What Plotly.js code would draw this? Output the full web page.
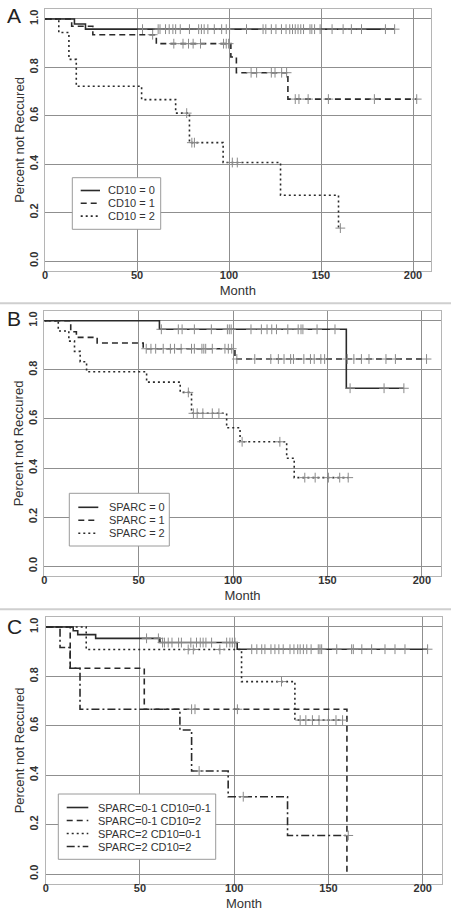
<!DOCTYPE html>
<html>
<head>
<meta charset="utf-8">
<script src="https://cdn.plot.ly/plotly-3.0.1.min.js"></script>
<style>html,body{margin:0;padding:0;background:#fff;}#chart{width:451px;height:915px;}</style>
</head>
<body>
<div id="chart"></div>
<script>
// ---------- Data ----------
// Panel A: CD10
const cd10Labels = ["CD10 = 0", "CD10 = 1", "CD10 = 2"];
const cd10_0_times = [16, 22];
const cd10_0_surv = [0.979, 0.958];
const cd10_0_censor = [53, 61.5, 62.5, 65.5, 67.5, 69.5, 71, 73.5, 78.5, 83.5, 85, 86.5, 88.5, 92, 96, 98.5, 100.3, 109.5, 118.5, 120, 123, 125.5, 128.5, 131, 133, 134.5, 136, 137.5, 139, 140.5, 144, 145, 146.5, 149.5, 156, 162, 166.5, 172, 185, 190];
const cd10_1_times = [14.5, 26, 60.5, 101, 104, 132];
const cd10_1_surv = [0.97, 0.935, 0.898, 0.843, 0.778, 0.669];
const cd10_1_censor = [58.5, 70, 75, 78, 80.5, 84.5, 97, 98.5, 99.8, 112, 115, 123, 125, 128.6, 131.3, 136, 138, 143, 154, 179, 202];
const cd10_2_times = [7.5, 13, 17, 52.5, 71, 78.5, 96.8, 128, 159.5];
const cd10_2_surv = [0.944, 0.833, 0.722, 0.667, 0.611, 0.489, 0.407, 0.272, 0.136];
const cd10_2_censor = [77, 79.8, 81.2, 101.8, 104.5, 160.5];

// Panel B: SPARC
const sparcLabels = ["SPARC = 0", "SPARC = 1", "SPARC = 2"];
const sparc0_times = [61, 160];
const sparc0_surv = [0.965, 0.725];
const sparc0_censor = [62, 71, 73, 79.5, 88.5, 97, 98, 99, 109.5, 115, 118, 120.5, 123, 129, 134.5, 136, 137, 144.5, 154, 162, 180, 190.5];
const sparc1_times = [14, 17, 28, 52.4, 101];
const sparc1_surv = [0.955, 0.932, 0.909, 0.886, 0.844];
const sparc1_censor = [54, 56.5, 59, 63, 66.8, 69, 72.5, 78, 79.5, 83.5, 84.5, 85.5, 89, 95.7, 97.5, 99.3, 102, 111.5, 120, 124, 127, 130.5, 132, 137.5, 141, 143, 146.5, 148.5, 160.5, 164, 168, 172, 181, 186, 202.5];
const sparc2_times = [7.4, 13, 16, 19, 22.4, 54.2, 72, 78, 96.6, 103.7, 128.4, 132.4];
const sparc2_surv = [0.958, 0.917, 0.875, 0.833, 0.792, 0.75, 0.708, 0.623, 0.564, 0.507, 0.44, 0.361];
const sparc2_censor = [76.3, 79, 81, 84, 89, 92.5, 104.8, 124.8, 138, 143.5, 150.5, 156.5, 161];

// Panel C: combined groups
const comboLabels = ["SPARC=0-1 CD10=0-1", "SPARC=0-1 CD10=2", "SPARC=2 CD10=0-1", "SPARC=2 CD10=2"];
const g1_times = [14.6, 17, 26.5, 60.6, 101.6];
const g1_surv = [0.985, 0.969, 0.954, 0.937, 0.91];
const g1_censor = [53.5, 59.8, 62, 63, 65, 67, 70.5, 72, 77, 80, 82, 83.5, 85, 88, 96, 97.7, 99, 100.4, 109.3, 112, 114.6, 116.3, 119.5, 121.6, 123.7, 126, 129.6, 131.7, 133.7, 135, 136.7, 138.5, 140.8, 144.6, 145.5, 146.4, 154.4, 162.3, 163.2, 167.7, 172.9, 180, 185.3, 190.6, 202.6];
const g2_times = [13, 52.3, 159.8];
const g2_surv = [0.833, 0.667, 0];
const g2_censor = [77.4, 79.2, 101.7];
const g3_times = [21.5, 103.9, 132.2];
const g3_surv = [0.909, 0.779, 0.623];
const g3_censor = [75.6, 78.3, 92.4, 125.1, 135, 138, 141.5, 145, 150, 154, 157.5];
const g4_times = [7.6, 13, 18.2, 71.2, 77.4, 96.8, 128.3];
const g4_surv = [0.917, 0.833, 0.667, 0.583, 0.417, 0.313, 0.156];
const g4_censor = [81.4, 104.8, 160.5];

const xTicks = [0, 50, 100, 150, 200];
const yTicks = [0, 0.2, 0.4, 0.6, 0.8, 1.0];

// ---------- Helpers ----------
const FONT = "Liberation Sans, Arial, Helvetica, sans-serif";
const LINE_COLOR = "#2a2a2a";
const dashes = ["solid", "6px,4px", "2px,3px", "8px,3px,2px,3px"];
const W = 451, H = 915;

function survAt(times, surv, t) {
  let s = 1;
  for (let i = 0; i < times.length; i++) { if (times[i] <= t) s = surv[i]; }
  return s;
}

function kmTraces(times, surv, censor, name, dashIdx, ax) {
  const end = Math.max(times[times.length - 1], censor.length ? censor[censor.length - 1] : 0);
  const xs = [0].concat(times);
  const ys = [1].concat(surv);
  if (end > times[times.length - 1]) { xs.push(end); ys.push(surv[surv.length - 1]); }
  const line = {
    x: xs, y: ys, type: "scatter", mode: "lines", name: name, showlegend: false,
    line: {shape: "hv", color: LINE_COLOR, width: 1.6, dash: dashes[dashIdx]},
    xaxis: "x" + ax, yaxis: "y" + ax, hoverinfo: "skip"
  };
  const marks = {
    x: censor, y: censor.map(t => survAt(times, surv, t)), type: "scatter", mode: "markers",
    name: name + " (censored)",
    marker: {symbol: "cross-thin", size: 7, line: {color: "#8a8a8a", width: 1}, color: "#8a8a8a"},
    showlegend: false, xaxis: "x" + ax, yaxis: "y" + ax, hoverinfo: "skip"
  };
  return [line, marks];
}

const data = [].concat(
  kmTraces(cd10_0_times, cd10_0_surv, cd10_0_censor, cd10Labels[0], 0, ""),
  kmTraces(cd10_1_times, cd10_1_surv, cd10_1_censor, cd10Labels[1], 1, ""),
  kmTraces(cd10_2_times, cd10_2_surv, cd10_2_censor, cd10Labels[2], 2, ""),
  kmTraces(sparc0_times, sparc0_surv, sparc0_censor, sparcLabels[0], 0, "2"),
  kmTraces(sparc1_times, sparc1_surv, sparc1_censor, sparcLabels[1], 1, "2"),
  kmTraces(sparc2_times, sparc2_surv, sparc2_censor, sparcLabels[2], 2, "2"),
  kmTraces(g1_times, g1_surv, g1_censor, comboLabels[0], 0, "3"),
  kmTraces(g2_times, g2_surv, g2_censor, comboLabels[1], 1, "3"),
  kmTraces(g3_times, g3_surv, g3_censor, comboLabels[2], 2, "3"),
  kmTraces(g4_times, g4_surv, g4_censor, comboLabels[3], 3, "3")
);

function xDom(l, r) { return [l / W, r / W]; }
function yDom(top, bottom) { return [(H - bottom) / H, (H - top) / H]; }

function xAxis(dom, anchor, xmax) {
  return {
    domain: dom, anchor: anchor, range: [0, xmax], tickvals: xTicks, ticktext: xTicks.map(String),
    showgrid: true, gridcolor: "#8f8f8f", gridwidth: 1, zeroline: false,
    showline: true, mirror: true, linecolor: "#b5b5b5", linewidth: 1,
    ticks: "", ticklabelstandoff: -6,
    tickfont: {family: FONT, size: 11, color: "#333", weight: "bold"},
    title: {text: "Month", font: {family: FONT, size: 13, color: "#333"}, standoff: 5},
    fixedrange: true
  };
}
function yAxis(dom, anchor) {
  return {
    domain: dom, anchor: anchor, range: [-0.04, 1.04], tickvals: yTicks, ticktext: yTicks.map(v => v.toFixed(1)),
    showgrid: true, gridcolor: "#8f8f8f", gridwidth: 1, zeroline: false,
    showline: true, mirror: true, linecolor: "#b5b5b5", linewidth: 1,
    ticks: "", tickangle: -90, ticklabelstandoff: 2,
    tickfont: {family: FONT, size: 11, color: "#333", weight: "bold"},
    title: {text: "Percent not Reccured", font: {family: FONT, size: 13, color: "#333"}, standoff: 0},
    fixedrange: true
  };
}

// Legend boxes (key): box edges, row centres, sample-line x-span, text left, font size (pixels)
const legendSpecs = [
  {labels: cd10Labels, box: [72.3, 160.7, 177.7, 229.3], rows: [190.5, 203.3, 216.1], sample: [80.7, 100], textX: 106.7, size: 11},
  {labels: sparcLabels, box: [69.3, 169.3, 493.3, 546], rows: [507.3, 520.3, 533.3], sample: [78.3, 98.3], textX: 108.3, size: 11},
  {labels: comboLabels, box: [58.3, 215.7, 794, 859.3], rows: [807.5, 820.5, 833.5, 846.5], sample: [66.7, 88.3], textX: 96.7, size: 11}
];

const shapes = [
  {type: "line", xref: "paper", yref: "paper", x0: 0, x1: 1, y0: (H - 303.3) / H, y1: (H - 303.3) / H, line: {color: "#cfcfcf", width: 2}},
  {type: "line", xref: "paper", yref: "paper", x0: 0, x1: 1, y0: (H - 609.3) / H, y1: (H - 609.3) / H, line: {color: "#cfcfcf", width: 2}}
];
const annotations = [
  {text: "A", xref: "paper", yref: "paper", x: 13.5 / W, y: (H - 15.5) / H, xanchor: "center", yanchor: "middle", showarrow: false, font: {family: FONT, size: 21, color: "#222"}},
  {text: "B", xref: "paper", yref: "paper", x: 13.5 / W, y: (H - 318.5) / H, xanchor: "center", yanchor: "middle", showarrow: false, font: {family: FONT, size: 21, color: "#222"}},
  {text: "C", xref: "paper", yref: "paper", x: 14.5 / W, y: (H - 626) / H, xanchor: "center", yanchor: "middle", showarrow: false, font: {family: FONT, size: 21, color: "#222"}}
];
legendSpecs.forEach(spec => {
  shapes.push({type: "rect", xref: "paper", yref: "paper", x0: spec.box[0] / W, x1: spec.box[1] / W,
    y0: (H - spec.box[3]) / H, y1: (H - spec.box[2]) / H, line: {color: "#9a9a9a", width: 1}, fillcolor: "#ffffff", layer: "above"});
  spec.labels.forEach((lab, i) => {
    const yy = (H - spec.rows[i]) / H;
    shapes.push({type: "line", xref: "paper", yref: "paper", x0: spec.sample[0] / W, x1: spec.sample[1] / W, y0: yy, y1: yy,
      line: {color: LINE_COLOR, width: 1.6, dash: dashes[i]}, layer: "above"});
    annotations.push({text: lab, xref: "paper", yref: "paper", x: spec.textX / W, y: yy, xanchor: "left", yanchor: "middle",
      showarrow: false, font: {family: FONT, size: spec.size, color: "#333"}, borderpad: 0});
  });
});

const layout = {
  width: W, height: H, margin: {l: 0, r: 0, t: 0, b: 0},
  paper_bgcolor: "#ffffff", plot_bgcolor: "#ffffff",
  font: {family: FONT, color: "#333"},
  xaxis: xAxis(xDom(45, 430.7), "y", 209.6),
  yaxis: yAxis(yDom(9.3, 270.7), "x"),
  xaxis2: xAxis(xDom(44.3, 440.7), "y2", 210),
  yaxis2: yAxis(yDom(310.9, 576.1), "x2"),
  xaxis3: xAxis(xDom(45.7, 442.3), "y3", 210.4),
  yaxis3: yAxis(yDom(617.1, 883.9), "x3"),
  shapes: shapes,
  annotations: annotations,
  showlegend: false
};

Plotly.newPlot("chart", data, layout, {staticPlot: true, displayModeBar: false});
</script>
</body>
</html>
